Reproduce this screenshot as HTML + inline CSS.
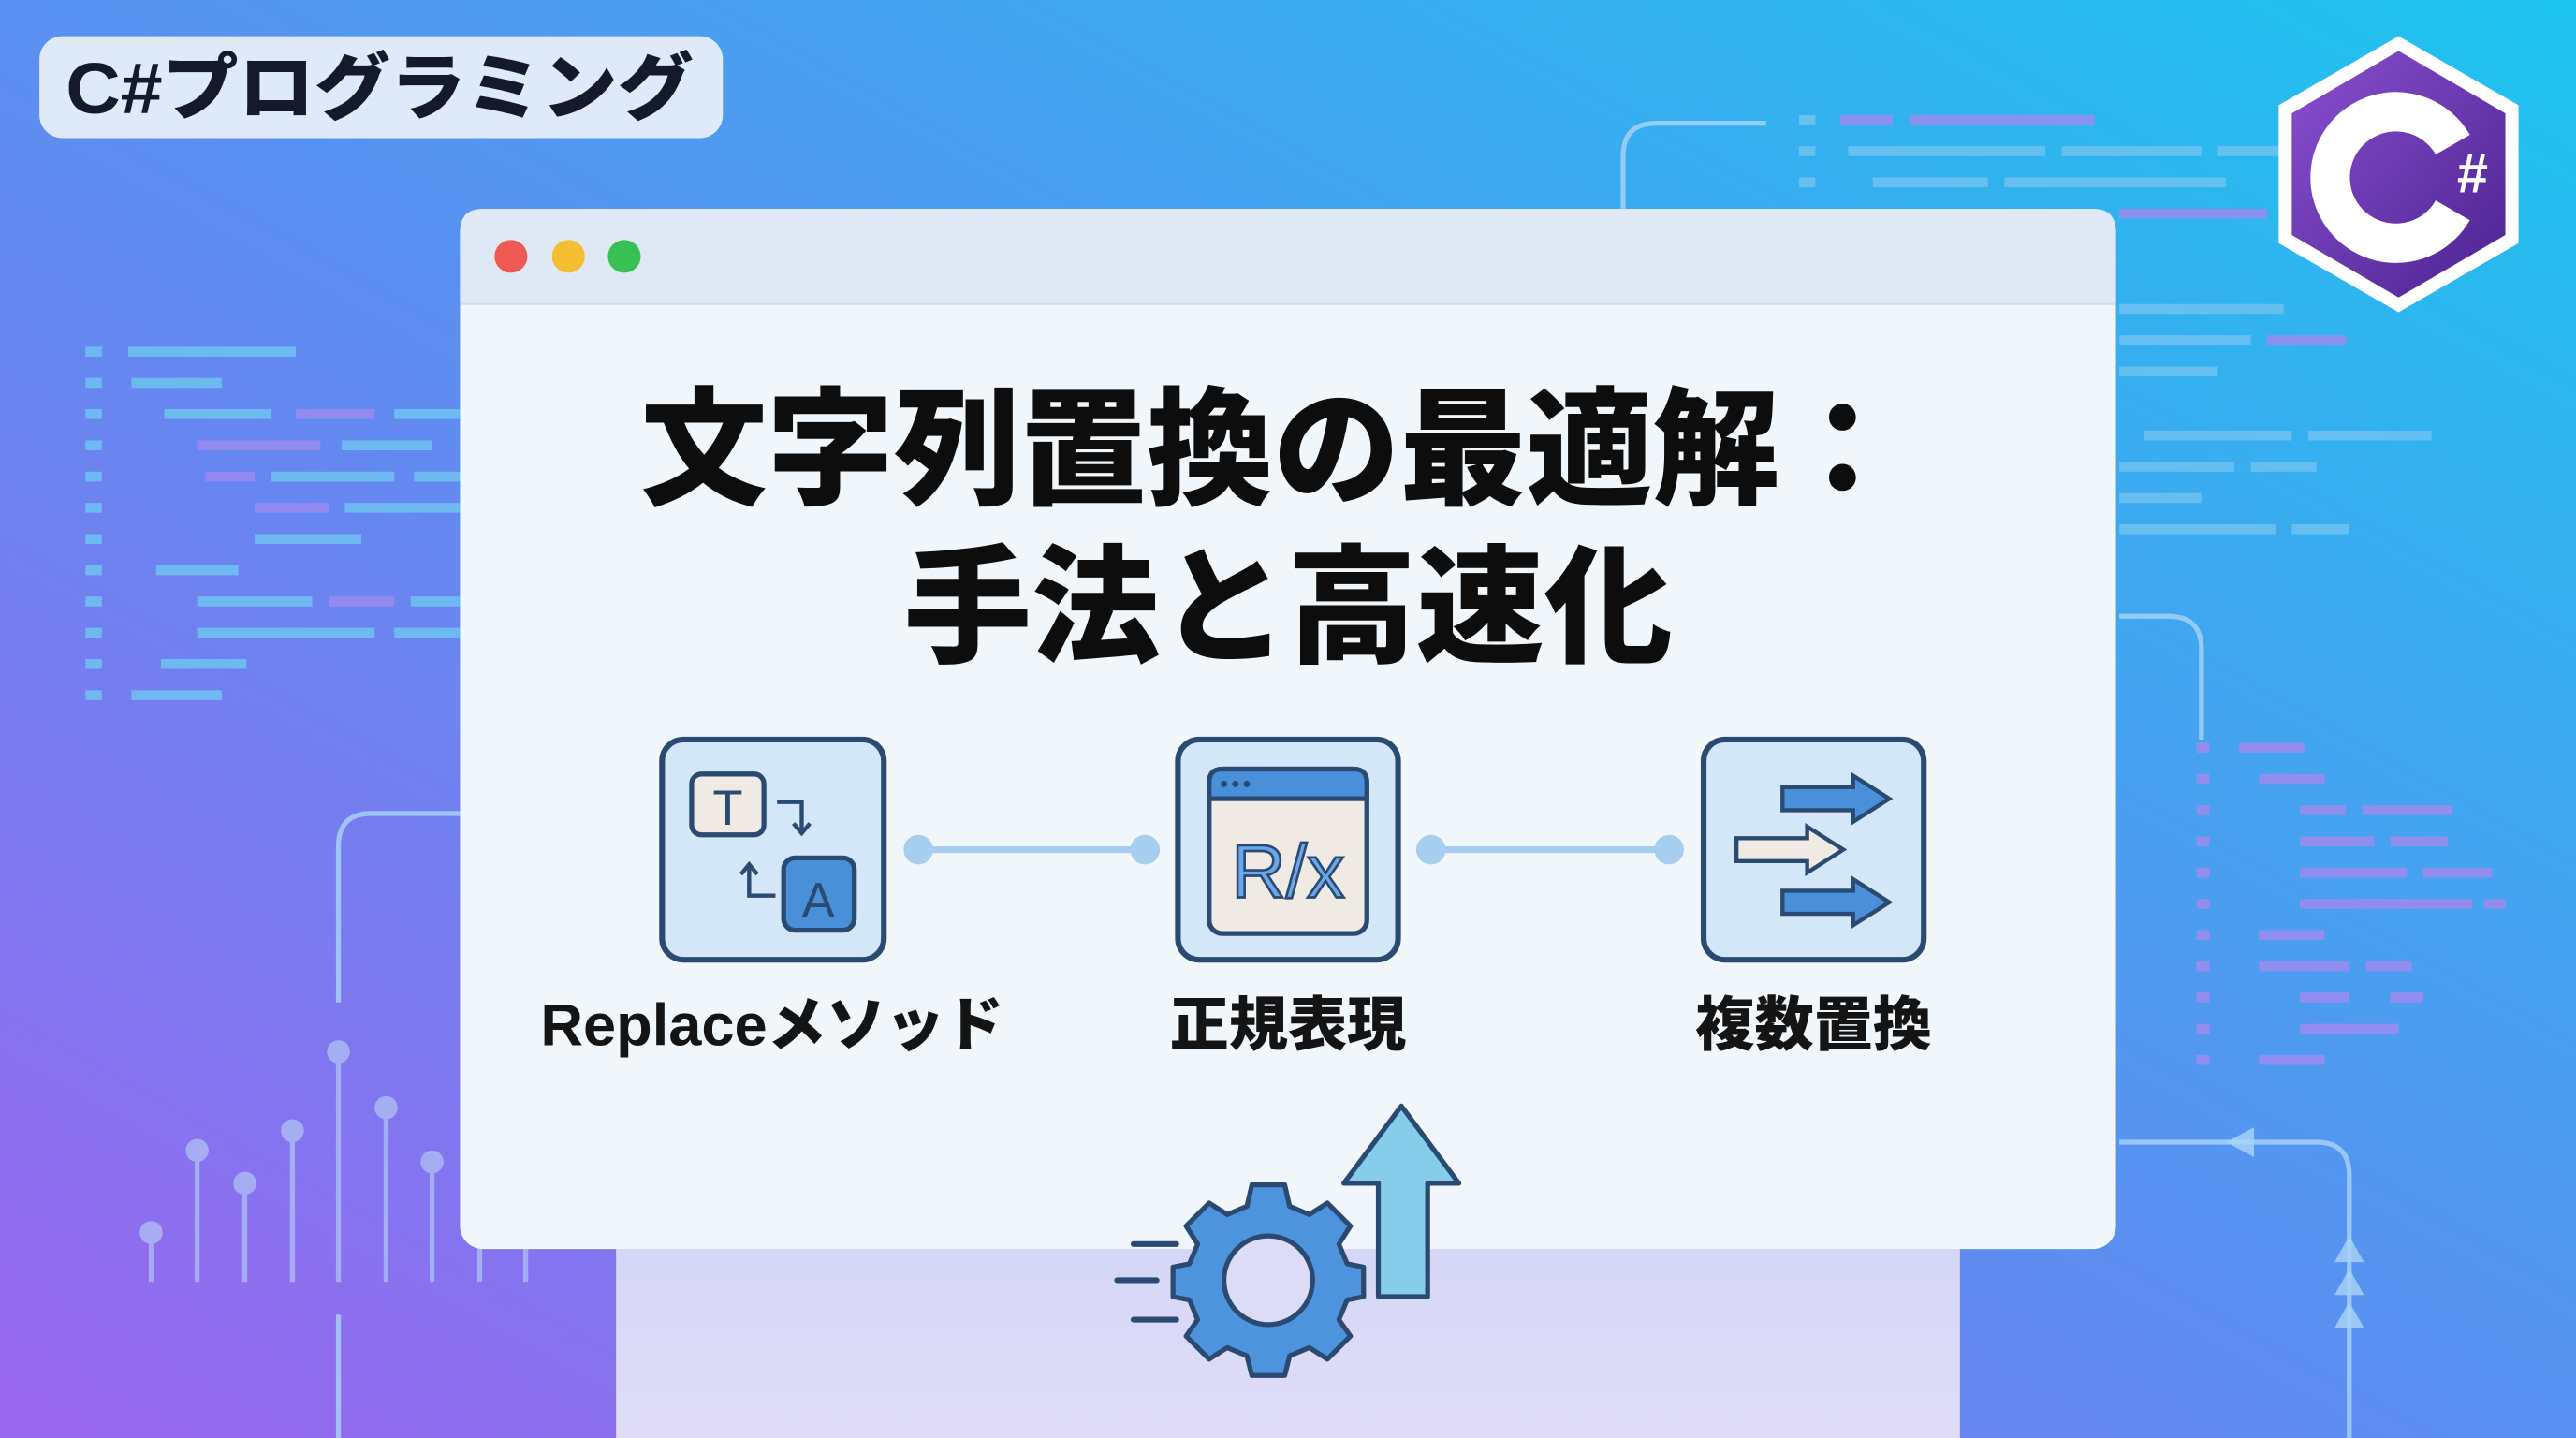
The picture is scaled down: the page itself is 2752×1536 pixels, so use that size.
<!DOCTYPE html>
<html><head><meta charset="utf-8"><style>
html,body{margin:0;padding:0;width:2752px;height:1536px;overflow:hidden}
svg{display:block}
text{font-family:"Liberation Sans","Noto Sans CJK JP",sans-serif;font-weight:bold}
.h{font-weight:900}
</style></head><body>
<svg width="2752" height="1536" viewBox="0 0 1568 875" preserveAspectRatio="none" xmlns="http://www.w3.org/2000/svg">
<defs>
<linearGradient id="bg" x1="0" y1="1" x2="1" y2="0">
<stop offset="0" stop-color="#9a66ee"/><stop offset="0.45" stop-color="#5f8cf0"/><stop offset="1" stop-color="#1cc4ef"/>
</linearGradient>
<linearGradient id="low" x1="0" y1="0" x2="0" y2="1">
<stop offset="0" stop-color="#d4d6f6"/><stop offset="1" stop-color="#e0dcf8"/>
</linearGradient>
<linearGradient id="hex" x1="0" y1="0" x2="1" y2="1">
<stop offset="0" stop-color="#8a4fd0"/><stop offset="1" stop-color="#4b2390"/>
</linearGradient>
</defs>
<rect width="1568" height="875" fill="url(#bg)"/>

<g fill="#6fc3f2" opacity="0.85">
<rect x="52" y="211" width="10" height="6"/><rect x="78" y="211" width="102" height="6"/>
<rect x="52" y="230" width="10" height="6"/><rect x="80" y="230" width="55" height="6"/>
<rect x="52" y="249" width="10" height="6"/><rect x="100" y="249" width="65" height="6"/><rect x="180" y="249" width="48" height="6" fill="#9a8cf0"/><rect x="240" y="249" width="40" height="6"/>
<rect x="52" y="268" width="10" height="6"/><rect x="120" y="268" width="75" height="6" fill="#9a8cf0"/><rect x="208" y="268" width="55" height="6"/>
<rect x="52" y="287" width="10" height="6"/><rect x="125" y="287" width="30" height="6" fill="#9a8cf0"/><rect x="165" y="287" width="75" height="6"/><rect x="252" y="287" width="28" height="6"/>
<rect x="52" y="306" width="10" height="6"/><rect x="155" y="306" width="45" height="6" fill="#9a8cf0"/><rect x="210" y="306" width="70" height="6"/>
<rect x="52" y="325" width="10" height="6"/><rect x="155" y="325" width="65" height="6"/>
<rect x="52" y="344" width="10" height="6"/><rect x="95" y="344" width="50" height="6"/>
<rect x="52" y="363" width="10" height="6"/><rect x="120" y="363" width="70" height="6"/><rect x="200" y="363" width="40" height="6" fill="#9a8cf0"/><rect x="250" y="363" width="30" height="6"/>
<rect x="52" y="382" width="10" height="6"/><rect x="120" y="382" width="108" height="6"/><rect x="240" y="382" width="40" height="6"/>
<rect x="52" y="401" width="10" height="6"/><rect x="98" y="401" width="52" height="6"/>
<rect x="52" y="420" width="10" height="6"/><rect x="80" y="420" width="55" height="6"/>
</g>
<g fill="#6fc3f2" opacity="0.85">
<rect x="1095" y="70" width="10" height="6"/><rect x="1120" y="70" width="32" height="6" fill="#9a8cf0"/><rect x="1163" y="70" width="112" height="6" fill="#9a8cf0"/>
<rect x="1095" y="89" width="10" height="6"/><rect x="1125" y="89" width="120" height="6"/><rect x="1255" y="89" width="85" height="6"/><rect x="1350" y="89" width="40" height="6"/>
<rect x="1095" y="108" width="10" height="6"/><rect x="1140" y="108" width="70" height="6"/><rect x="1220" y="108" width="135" height="6"/>
<rect x="1290" y="127" width="90" height="6" fill="#9a8cf0"/>
<rect x="1290" y="185" width="100" height="6"/><rect x="1290" y="204" width="80" height="6"/><rect x="1380" y="204" width="48" height="6" fill="#9a8cf0"/>
<rect x="1290" y="223" width="60" height="6"/>
<rect x="1305" y="262" width="90" height="6"/><rect x="1405" y="262" width="75" height="6"/>
<rect x="1290" y="281" width="70" height="6"/><rect x="1370" y="281" width="40" height="6"/>
<rect x="1290" y="300" width="50" height="6"/>
<rect x="1290" y="319" width="95" height="6"/><rect x="1395" y="319" width="35" height="6"/>
</g>
<g fill="#9a8cf0" opacity="0.9">
<rect x="1337" y="452" width="8" height="6"/><rect x="1363" y="452" width="40" height="6"/>
<rect x="1337" y="471" width="8" height="6"/><rect x="1375" y="471" width="40" height="6"/>
<rect x="1337" y="490" width="8" height="6"/><rect x="1400" y="490" width="28" height="6"/><rect x="1438" y="490" width="55" height="6"/>
<rect x="1337" y="509" width="8" height="6"/><rect x="1400" y="509" width="45" height="6"/><rect x="1455" y="509" width="35" height="6"/>
<rect x="1337" y="528" width="8" height="6"/><rect x="1400" y="528" width="65" height="6"/><rect x="1475" y="528" width="42" height="6"/>
<rect x="1337" y="547" width="8" height="6"/><rect x="1400" y="547" width="105" height="6"/><rect x="1512" y="547" width="13" height="6"/>
<rect x="1337" y="566" width="8" height="6"/><rect x="1375" y="566" width="40" height="6"/>
<rect x="1337" y="585" width="8" height="6"/><rect x="1375" y="585" width="55" height="6"/><rect x="1440" y="585" width="28" height="6"/>
<rect x="1337" y="604" width="8" height="6"/><rect x="1400" y="604" width="30" height="6"/><rect x="1455" y="604" width="20" height="6"/>
<rect x="1337" y="623" width="8" height="6"/><rect x="1400" y="623" width="60" height="6"/>
<rect x="1337" y="642" width="8" height="6"/><rect x="1375" y="642" width="40" height="6"/>
</g>

<g fill="none" stroke="#a9d4f8" stroke-width="3" opacity="0.8">
<path d="M988 127 V95 Q988 75 1008 75 H1075"/>
<path d="M206 610 V515 Q206 495 226 495 H280"/>
<path d="M206 800 V875"/>
<path d="M1290 375 H1320 Q1340 375 1340 395 V450"/>
<path d="M1290 695 H1410 Q1430 695 1430 715 V875"/>
</g>
<g fill="#a9d4f8" opacity="0.8">
<polygon points="1355,695 1372,686 1372,704"/>
<polygon points="1430,752 1421,768 1439,768"/><polygon points="1430,772 1421,788 1439,788"/><polygon points="1430,792 1421,808 1439,808"/>
</g>
<g stroke="#b3c6f6" stroke-width="3" opacity="0.7" fill="#b3c6f6">
<line x1="92" y1="750" x2="92" y2="780"/><circle cx="92" cy="750" r="7" stroke="none"/>
<line x1="120" y1="700" x2="120" y2="780"/><circle cx="120" cy="700" r="7" stroke="none"/>
<line x1="149" y1="720" x2="149" y2="780"/><circle cx="149" cy="720" r="7" stroke="none"/>
<line x1="178" y1="688" x2="178" y2="780"/><circle cx="178" cy="688" r="7" stroke="none"/>
<line x1="206" y1="640" x2="206" y2="780"/><circle cx="206" cy="640" r="7" stroke="none"/>
<line x1="235" y1="674" x2="235" y2="780"/><circle cx="235" cy="674" r="7" stroke="none"/>
<line x1="263" y1="707" x2="263" y2="780"/><circle cx="263" cy="707" r="7" stroke="none"/>
<line x1="292" y1="740" x2="292" y2="780"/><line x1="320" y1="760" x2="320" y2="780"/>
</g>

<rect x="24" y="22" width="416" height="62" rx="14" fill="#dfeaf8"/>
<text class="h" x="40" y="69" font-size="44" fill="#141a2a" textLength="382" lengthAdjust="spacingAndGlyphs">C#プログラミング</text>

<rect x="375" y="750" width="818" height="125" fill="url(#low)"/>

<rect x="280" y="127" width="1008" height="633" rx="14" fill="#f1f6fb"/>
<path d="M294 127 H1274 Q1288 127 1288 141 V185 H280 V141 Q280 127 294 127Z" fill="#dfe9f5"/>
<line x1="280" y1="185" x2="1288" y2="185" stroke="#d0dcea" stroke-width="1"/>
<circle cx="311" cy="156" r="10" fill="#ee5a52"/>
<circle cx="346" cy="156" r="10" fill="#f4be33"/>
<circle cx="380" cy="156" r="10" fill="#37c152"/>

<text class="h" x="390" y="301" font-size="78" fill="#0d0d0d" textLength="770" lengthAdjust="spacingAndGlyphs">文字列置換の最適解：</text>
<text class="h" x="784" y="397" font-size="78" text-anchor="middle" fill="#0d0d0d">手法と高速化</text>

<g stroke="#a7cdef" stroke-width="4" fill="#a7cdef">
<line x1="559" y1="517" x2="697" y2="517"/><circle cx="559" cy="517" r="9" stroke="none"/><circle cx="697" cy="517" r="9" stroke="none"/>
<line x1="871" y1="517" x2="1016" y2="517"/><circle cx="871" cy="517" r="9" stroke="none"/><circle cx="1016" cy="517" r="9" stroke="none"/>
</g>

<g stroke="#2b4a72" stroke-width="3.5">
<rect x="403" y="450" width="135" height="134" rx="13" fill="#d3e7f8"/>
<rect x="717" y="450" width="134" height="134" rx="13" fill="#d3e7f8"/>
<rect x="1037" y="450" width="134" height="134" rx="13" fill="#d3e7f8"/>
</g>
<rect x="421" y="471" width="44" height="37" rx="6" fill="#efeae4" stroke="#2b4a72" stroke-width="3"/>
<text x="443" y="502" font-size="30" text-anchor="middle" fill="#2b4a72" style="font-weight:normal">T</text>
<rect x="477" y="522" width="43" height="44" rx="7" fill="#4a90d9" stroke="#2b4a72" stroke-width="3"/>
<text x="498" y="558" font-size="30" text-anchor="middle" fill="#2b4a72" style="font-weight:normal">A</text>
<g fill="none" stroke="#2b4a72" stroke-width="2.5">
<path d="M473 488 H488 V506"/><path d="M483 501 L488 507 L493 501"/>
<path d="M472 545 H456 V527"/><path d="M451 532 L456 526 L461 532"/>
</g>
<rect x="736" y="468" width="96" height="100" rx="8" fill="#efeae4" stroke="#2b4a72" stroke-width="3"/>
<path d="M744 468 H824 Q832 468 832 476 V486 H736 V476 Q736 468 744 468Z" fill="#4a90d9" stroke="#2b4a72" stroke-width="3"/>
<circle cx="745" cy="477" r="2" fill="#2b4a72"/><circle cx="752" cy="477" r="2" fill="#2b4a72"/><circle cx="759" cy="477" r="2" fill="#2b4a72"/>
<text x="784" y="546" font-size="46" text-anchor="middle" fill="#6aa8e6" stroke="#2b4a72" stroke-width="1.5" style="font-weight:normal">R/x</text>
<g stroke="#2b4a72" stroke-width="2.5">
<polygon points="1085,479 1128,479 1128,472 1150,486 1128,500 1128,493 1085,493" fill="#4a90d9"/>
<polygon points="1057,510 1100,510 1100,503 1122,517 1100,531 1100,524 1057,524" fill="#efeae4"/>
<polygon points="1085,542 1128,542 1128,535 1150,549 1128,563 1128,556 1085,556" fill="#4a90d9"/>
</g>

<text class="h" x="470" y="636" font-size="36" text-anchor="middle" fill="#141414">Replaceメソッド</text>
<text class="h" x="784" y="636" font-size="36" text-anchor="middle" fill="#141414">正規表現</text>
<text class="h" x="1104" y="636" font-size="36" text-anchor="middle" fill="#141414">複数置換</text>

<polygon points="853,673 888,720 869,720 869,789 839,789 839,720 818,720" fill="#86cdec" stroke="#2b4a72" stroke-width="3" stroke-linejoin="round"/>
<g transform="translate(772,779)">
<g fill="#4d94dc" stroke="#2b4a72" stroke-width="3" stroke-linejoin="round">
<path d="M-10,-58 L10,-58 L13,-45 L25,-40 L36,-47 L50,-33 L43,-22 L48,-10 L58,-8 L58,10 L48,12 L43,24 L50,34 L36,48 L25,41 L13,46 L10,58 L-10,58 L-13,46 L-25,41 L-36,48 L-50,34 L-43,24 L-48,12 L-58,10 L-58,-8 L-48,-10 L-43,-22 L-50,-33 L-36,-47 L-25,-40 L-13,-45 Z"/>
</g>
<circle r="27" fill="#dcdcf6" stroke="#2b4a72" stroke-width="3"/>
</g>
<g stroke="#2b4a72" stroke-width="3.5" stroke-linecap="round">
<line x1="690" y1="757" x2="716" y2="757"/><line x1="680" y1="779" x2="704" y2="779"/><line x1="690" y1="803" x2="716" y2="803"/>
</g>

<polygon points="1460,22 1533,64 1533,148 1460,190 1387,148 1387,64" fill="#ffffff"/>
<polygon points="1460,31 1525,69 1525,143 1460,181 1395,143 1395,69" fill="url(#hex)"/>
<path d="M1493,88 A40,40 0 1 0 1493,128" fill="none" stroke="#ffffff" stroke-width="24"/>
<text class="h" x="1505" y="117" font-size="34" text-anchor="middle" fill="#ffffff">#</text>
</svg>
</body></html>
